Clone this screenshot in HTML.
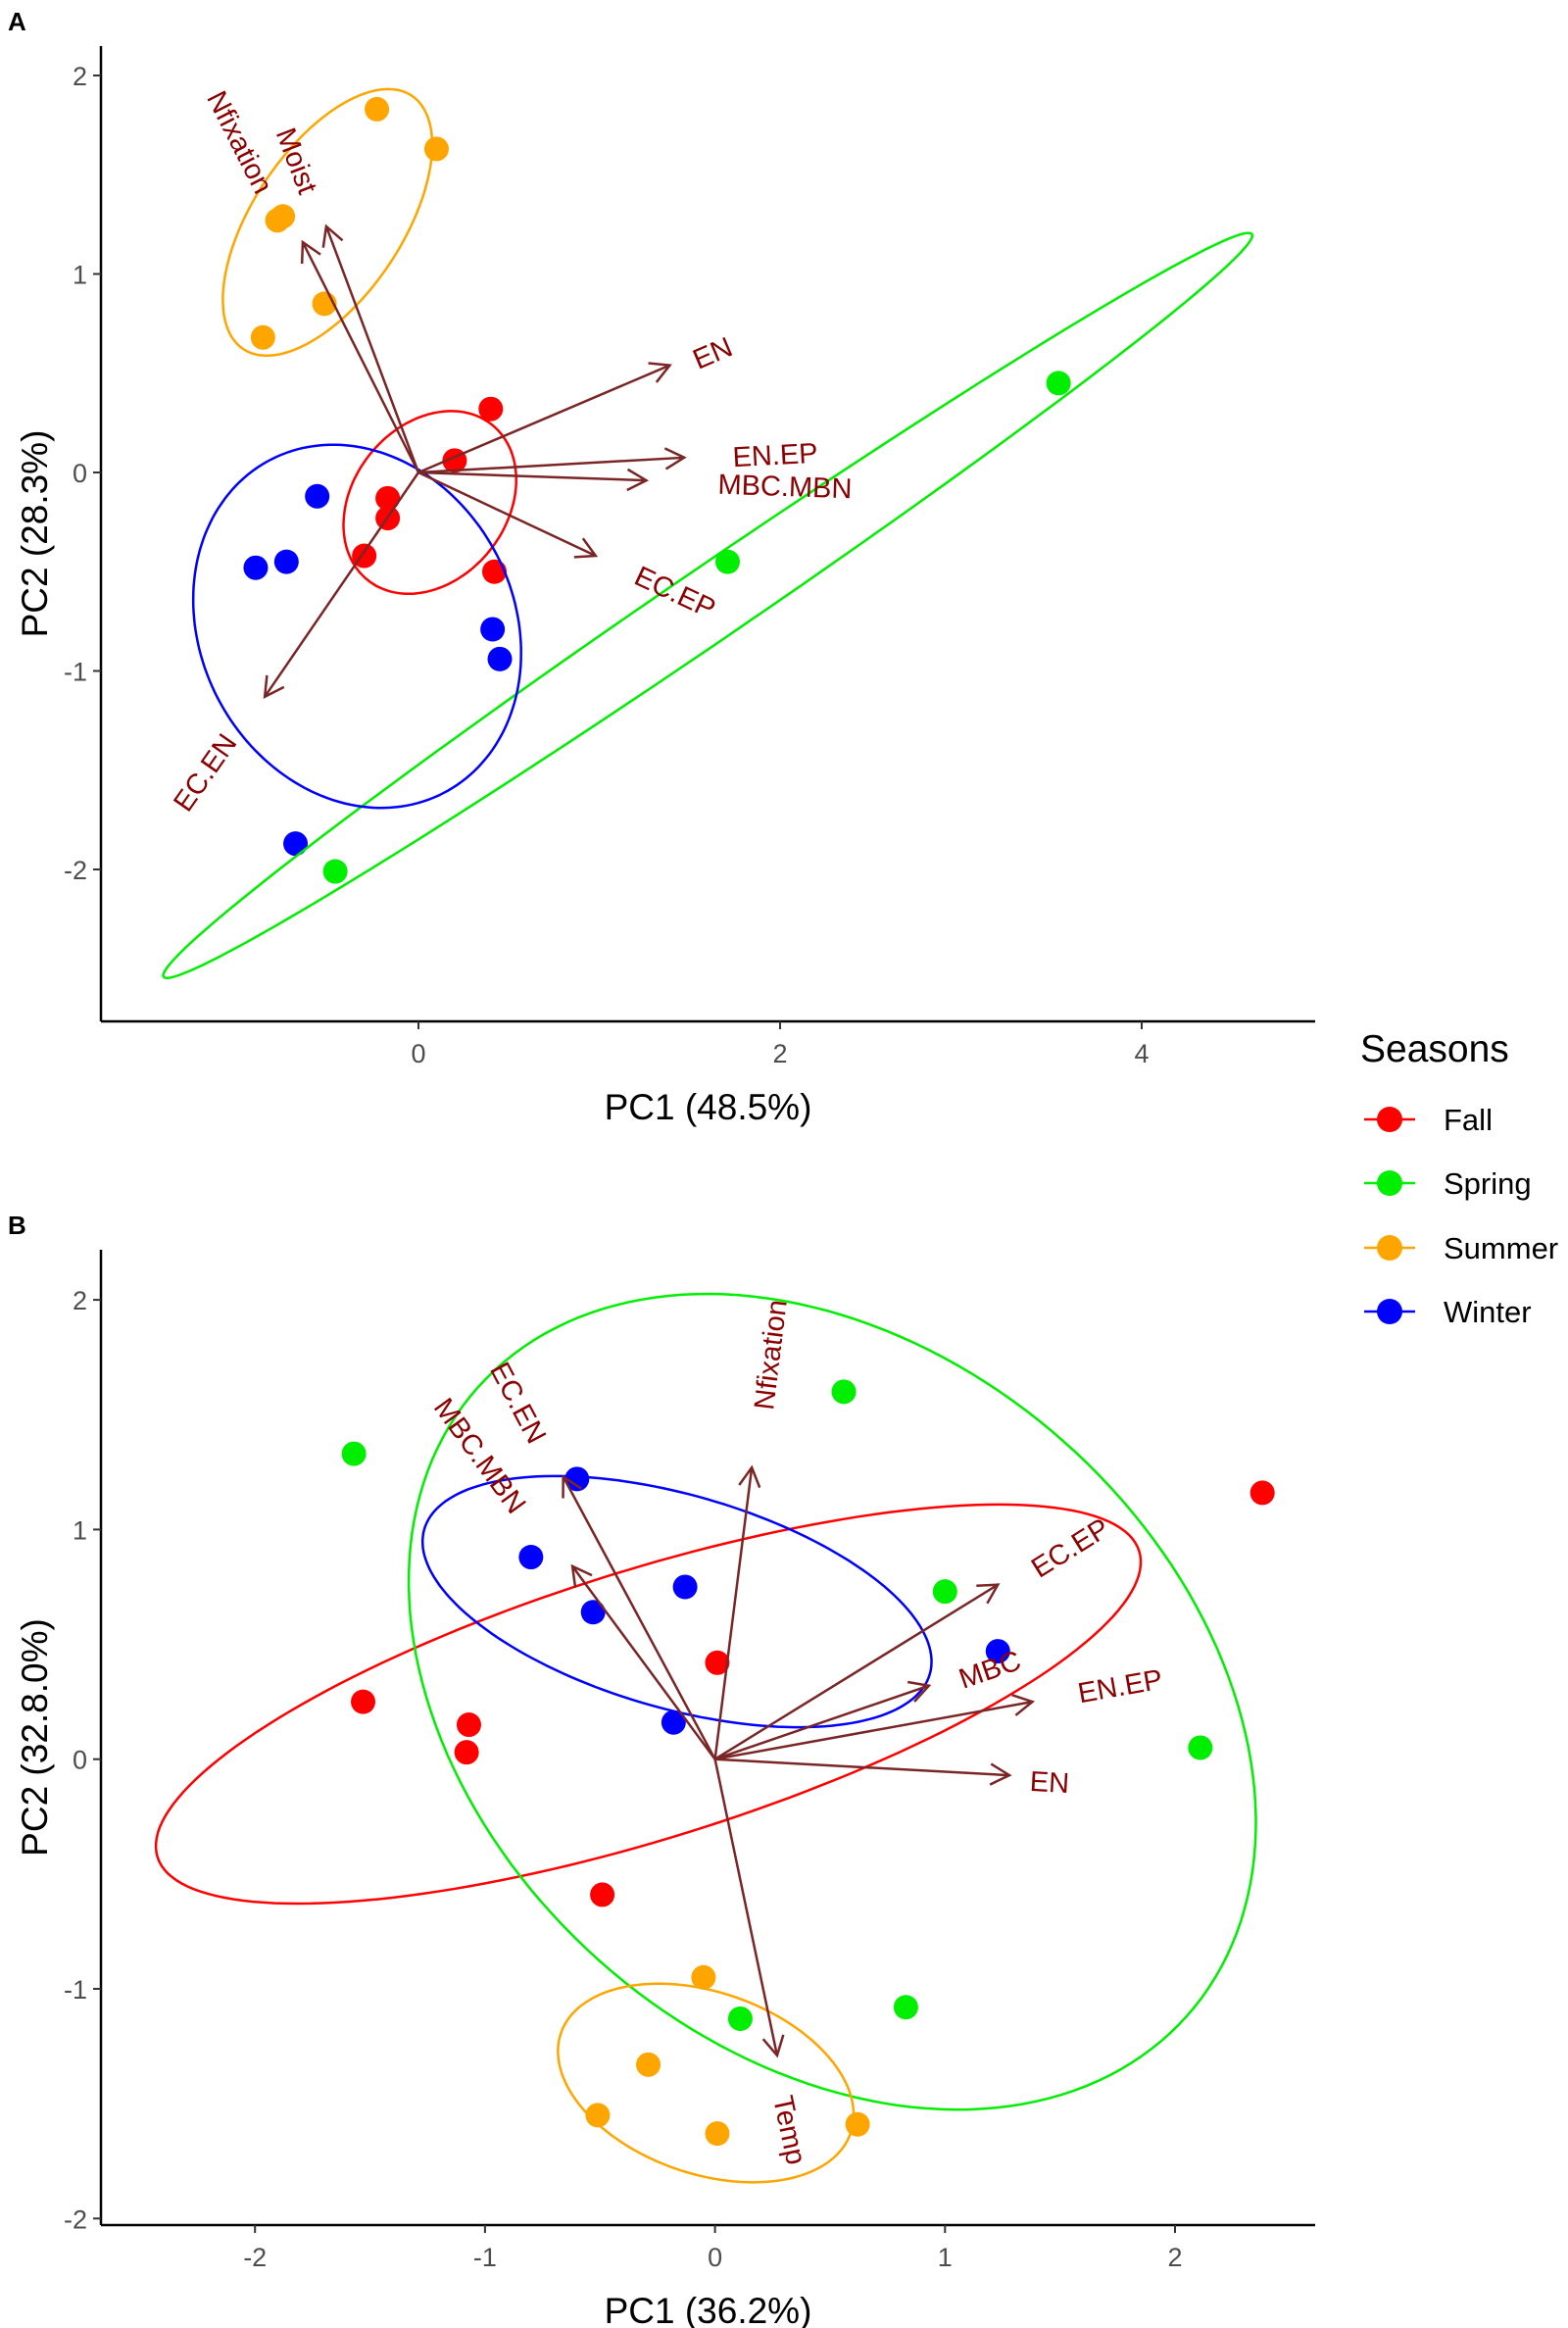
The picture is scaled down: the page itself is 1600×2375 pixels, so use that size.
<!DOCTYPE html>
<html><head><meta charset="utf-8"><style>
html,body{margin:0;padding:0;background:#fff;}
svg{display:block;font-family:"Liberation Sans",Arial,sans-serif;}
</style></head><body>
<svg id="fig" width="1600" height="2375" viewBox="0 0 1600 2375" xmlns="http://www.w3.org/2000/svg">
<g id="gA"></g>
<g id="gB"></g>
<g id="legend"></g>
</svg>
<script>
const seasons = ["Fall","Spring","Summer","Winter"];
const seasonColors = {Fall:"#ff0000",Spring:"#00ee00",Summer:"#ffa500",Winter:"#0000ff"};

// Panel A data
const aFallX = [0.40,0.20,-0.17,-0.17,-0.30,0.42];
const aFallY = [0.32,0.06,-0.13,-0.23,-0.42,-0.50];
const aSpringX = [3.54,1.71,-0.46];
const aSpringY = [0.45,-0.45,-2.01];
const aSummerX = [-0.23,0.10,-0.75,-0.78,-0.52,-0.86];
const aSummerY = [1.83,1.63,1.29,1.27,0.85,0.68];
const aWinterX = [-0.56,-0.73,-0.90,0.41,0.45,-0.68];
const aWinterY = [-0.12,-0.45,-0.48,-0.79,-0.94,-1.87];
const aArrowNames = ["Nfixation","Moist","EN","EN.EP","MBC.MBN","EC.EP","EC.EN"];
const aArrowX = [-0.64,-0.51,1.39,1.47,1.26,0.98,-0.85];
const aArrowY = [1.16,1.24,0.54,0.075,-0.04,-0.42,-1.13];
const aXTicks = [0,2,4];
const aYTicks = [-2,-1,0,1,2];
// ellipses: center, semi-axis vectors (data units)
const aEllFall = [0.063,-0.151, 0.398,0.341, -0.264,0.309];
const aEllSpring = [1.60,-0.67, 3.01,1.87, 0.10,-0.16];
const aEllSummer = [-0.503,1.26, 0.485,0.625, -0.316,0.245];
const aEllWinter = [-0.339,-0.775, 0.670,-0.709, 0.611,0.578];

// Panel B data
const bFallX = [2.38,0.01,-1.53,-1.07,-1.08,-0.49];
const bFallY = [1.16,0.42,0.25,0.15,0.03,-0.59];
const bSpringX = [-1.57,0.56,1.00,2.11,0.83,0.11];
const bSpringY = [1.33,1.60,0.73,0.05,-1.08,-1.13];
const bSummerX = [-0.05,-0.29,-0.51,0.01,0.62];
const bSummerY = [-0.95,-1.33,-1.55,-1.63,-1.59];
const bWinterX = [-0.60,-0.80,-0.13,-0.53,1.23,-0.18];
const bWinterY = [1.22,0.88,0.75,0.64,0.47,0.16];
const bArrowNames = ["Nfixation","EC.EN","MBC.MBN","EC.EP","MBC","EN.EP","EN","Temp"];
const bArrowX = [0.16,-0.66,-0.62,1.23,0.93,1.38,1.28,0.27];
const bArrowY = [1.27,1.23,0.84,0.76,0.32,0.25,-0.07,-1.29];
const bXTicks = [-2,-1,0,1,2];
const bYTicks = [-2,-1,0,1,2];
const bEllFall = [-0.29,0.24, 2.134,0.666, -0.174,0.558];
const bEllSpring = [0.51,0.25, 1.54,-1.37, 1.01,1.13];
const bEllSummer = [-0.04,-1.41, 0.63,-0.217, 0.128,0.374];
const bEllWinter = [-0.165,0.686, 1.099,-0.315, 0.128,0.447];

const NS="http://www.w3.org/2000/svg";
function mk(tag, attrs, parent){const e=document.createElementNS(NS,tag);for(const k in attrs)e.setAttribute(k,attrs[k]);parent.appendChild(e);return e;}

function drawPanel(g, cfg){
  const X = v => cfg.x0 + v*cfg.sx;
  const Y = v => cfg.y0 - v*cfg.sy;
  // axes
  let ax = mk("line",{x1:cfg.left,y1:cfg.top,x2:cfg.left,y2:cfg.bottom,stroke:"#000","stroke-width":2.5},g);
  
  
  ax = mk("line",{x1:cfg.left,y1:cfg.bottom,x2:cfg.right,y2:cfg.bottom,stroke:"#000","stroke-width":2.5},g);
  
  
  cfg.xt.forEach(t=>{
    const tk=mk("line",{x1:X(t),y1:cfg.bottom,x2:X(t),y2:cfg.bottom+8,stroke:"#333","stroke-width":2},g);
    
    
    const tl=mk("text",{x:X(t),y:cfg.bottom+42,"text-anchor":"middle","font-size":27,fill:"#4d4d4d"},g);
    tl.textContent=String(t);
    
    
  });
  cfg.yt.forEach(t=>{
    const tk=mk("line",{x1:cfg.left-8,y1:Y(t),x2:cfg.left,y2:Y(t),stroke:"#333","stroke-width":2},g);
    
    
    const tl=mk("text",{x:cfg.left-14,y:Y(t)+10,"text-anchor":"end","font-size":27,fill:"#4d4d4d"},g);
    tl.textContent=String(t);
    
    
  });
  const xt=mk("text",{x:(cfg.left+cfg.right)/2,y:cfg.bottom+100,"text-anchor":"middle","font-size":37,fill:"#000"},g);
  xt.textContent=cfg.xtitle;
  
  
  const cy=(cfg.top+cfg.bottom)/2;
  const yt=mk("text",{x:36,y:cy,"text-anchor":"middle","font-size":37,fill:"#000",transform:`rotate(-90 36 ${cy})`},g);
  yt.setAttribute("dy","12");
  yt.textContent=cfg.ytitle;
  
  
  const pl=mk("text",{x:8,y:cfg.top-16,"font-size":26,"font-weight":"bold",fill:"#000"},g);
  pl.textContent=cfg.label;
  
  

  // points
  seasons.forEach(s=>{
    const xs=cfg.pts[s][0], ys=cfg.pts[s][1];
    xs.forEach((v,i)=>{
      const c=mk("circle",{cx:X(v),cy:Y(ys[i]),r:12.5,fill:seasonColors[s]},g);
      
      
    });
  });
  // ellipses
  seasons.forEach(s=>{
    const e=cfg.ell[s];
    let d="";
    for(let k=0;k<=180;k++){
      const t=k/180*2*Math.PI;
      const dx=e[0]+e[2]*Math.cos(t)+e[4]*Math.sin(t);
      const dy=e[1]+e[3]*Math.cos(t)+e[5]*Math.sin(t);
      d+=(k?"L":"M")+X(dx).toFixed(1)+","+Y(dy).toFixed(1);
    }
    const p=mk("path",{d:d+"Z",fill:"none",stroke:seasonColors[s],"stroke-width":2.5},g);
    
    
  });
  // arrows
  const ox=X(0), oy=Y(0);
  cfg.an.forEach((n,i)=>{
    const tx=X(cfg.ax[i]), ty=Y(cfg.ay[i]);
    const ang=Math.atan2(ty-oy,tx-ox);
    let d=`M${ox},${oy}L${tx},${ty}`;
    const hl=22, ha=0.5;
    d+=`M${tx-hl*Math.cos(ang-ha)},${ty-hl*Math.sin(ang-ha)}L${tx},${ty}L${tx-hl*Math.cos(ang+ha)},${ty-hl*Math.sin(ang+ha)}`;
    const a=mk("path",{d:d,fill:"none",stroke:"#7b2626","stroke-width":2.5},g);
    
    
    const L=cfg.lab[i];
    const tl=mk("text",{x:L[0],y:L[1],"text-anchor":"middle","font-size":29,fill:"#8b0000",transform:`rotate(${L[2]} ${L[0]} ${L[1]})`},g);
    tl.setAttribute("dy","10");
    tl.textContent=n;
    
    
  });
}

drawPanel(document.getElementById("gA"),{
  x0:427,sx:184.5,y0:482,sy:202.5,left:103,right:1342,top:47,bottom:1042,
  xt:aXTicks,yt:aYTicks,xtitle:"PC1 (48.5%)",ytitle:"PC2 (28.3%)",label:"A",
  pts:{Fall:[aFallX,aFallY],Spring:[aSpringX,aSpringY],Summer:[aSummerX,aSummerY],Winter:[aWinterX,aWinterY]},
  ell:{Fall:aEllFall,Spring:aEllSpring,Summer:aEllSummer,Winter:aEllWinter},
  an:aArrowNames,ax:aArrowX,ay:aArrowY,
  lab:[[245,145,63],[303,164,69],[727,360,-23],[791,464,-3],[801,496,2],[689,604,25],[209,788,-55]]
});
drawPanel(document.getElementById("gB"),{
  x0:729.6,sx:234.7,y0:1794.7,sy:234.3,left:103,right:1342,top:1275,bottom:2270,
  xt:bXTicks,yt:bYTicks,xtitle:"PC1 (36.2%)",ytitle:"PC2 (32.8.0%)",label:"B",
  pts:{Fall:[bFallX,bFallY],Spring:[bSpringX,bSpringY],Summer:[bSummerX,bSummerY],Winter:[bWinterX,bWinterY]},
  ell:{Fall:bEllFall,Spring:bEllSpring,Summer:bEllSummer,Winter:bEllWinter},
  an:bArrowNames,ax:bArrowX,ay:bArrowY,
  lab:[[786,1382,-83],[529,1431,62],[490,1485,54],[1092,1579,-32],[1010,1703,-19],[1143,1720,-10],[1071,1818,3],[806,2173,78]]
});

// legend
const lg=document.getElementById("legend");
const lt=mk("text",{x:1388,y:1083,"font-size":39,fill:"#000"},lg);
lt.textContent="Seasons";


const legY=[1142,1207,1273,1338];
seasons.forEach((s,i)=>{
  const ge=mk("g",{},lg);
  
  
  mk("line",{x1:1392,y1:legY[i],x2:1444,y2:legY[i],stroke:seasonColors[s],"stroke-width":2.5},ge);
  mk("circle",{cx:1418,cy:legY[i],r:13,fill:seasonColors[s]},ge);
  const t=mk("text",{x:1473,y:legY[i]+11,"font-size":31,fill:"#000"},ge);
  t.textContent=s;
});
</script>
</body></html>
